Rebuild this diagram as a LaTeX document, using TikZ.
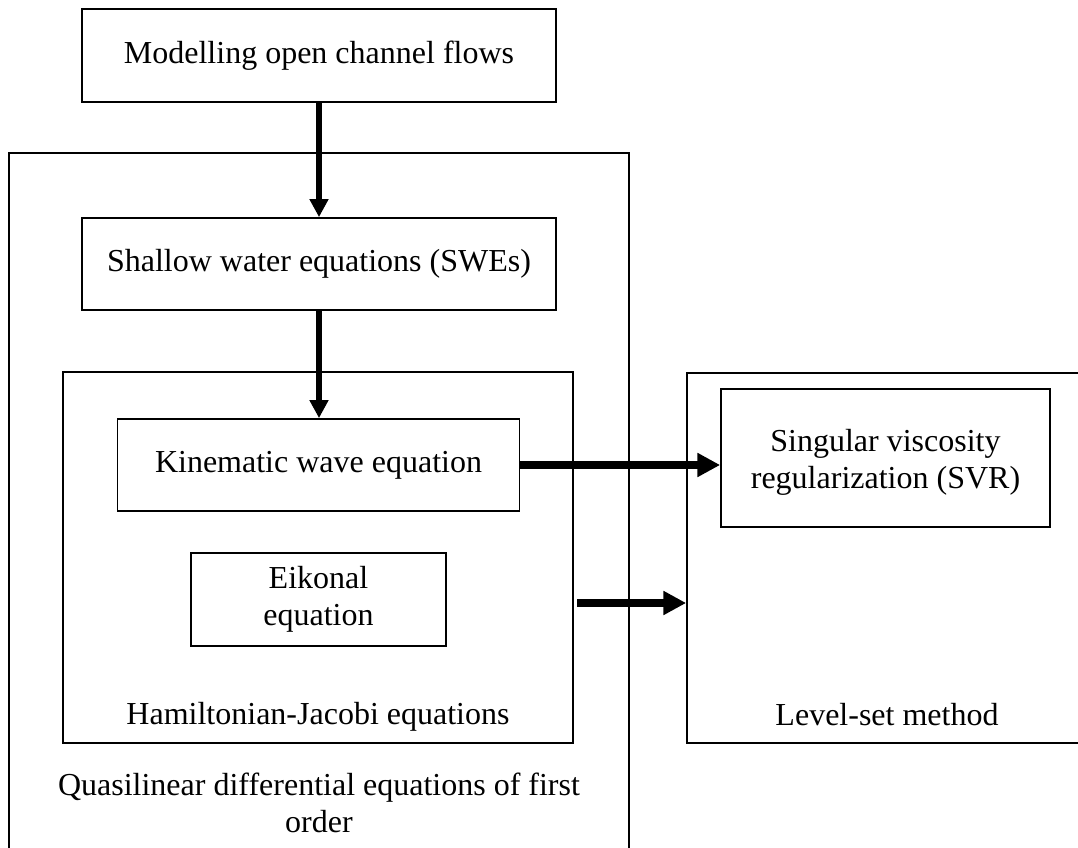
\documentclass[tikz,border=0pt]{standalone}
\usepackage{fontspec}
\setmainfont{Liberation Serif}
\usetikzlibrary{arrows.meta}
\begin{document}
\begin{tikzpicture}[x=0.75pt,y=-0.75pt,
  box/.style={draw, line width=1.3pt, inner sep=0pt, font=\fontsize{24}{27.75}\selectfont, align=center},
  lbl/.style={inner sep=0pt, font=\fontsize{24}{27.75}\selectfont, align=center},
  varrow/.style={line width=4.5pt, -{Triangle[length=13.5pt,width=13.5pt]}},
  harrow/.style={line width=6pt, -{Triangle[length=17pt,width=17pt]}}]
\useasboundingbox (0,0) rectangle (1078,848);
\clip (0,0) rectangle (1078,848);
\fill[white] (0,0) rectangle (1078,848);
% containers
\node[box, minimum width=465pt, minimum height=560.25pt] (outer) at (319,526.5) {};
\node[box, minimum width=382.5pt, minimum height=278.25pt] (hj) at (318,557.5) {};
\node[box, minimum width=302.25pt, minimum height=277.5pt] (ls) at (888.5,558) {};
% boxes
\node[box, minimum width=355.5pt, minimum height=69.75pt] (top) at (319,55.5) {Modelling open channel flows};
\node[box, minimum width=355.5pt, minimum height=69pt] (swe) at (319,264) {Shallow water equations (SWEs)};
\node[box, minimum width=301.5pt, minimum height=69pt] (kin) at (318.5,465) {Kinematic wave equation};
\node[box, minimum width=191.25pt, minimum height=69.75pt] (eik) at (318.5,599.5) {Eikonal\\equation};
\node[box, minimum width=246.75pt, minimum height=103.5pt] (svr) at (885.5,458) {};
\node[lbl, anchor=base] (svrl) at (885.5,488) {Singular viscosity\\regularization (SVR)};
% labels
\node[lbl, anchor=base] (hjl) at (318,724) {Hamiltonian-Jacobi equations};
\node[lbl, anchor=base] (lsl) at (887,725) {Level-set method};
\node[lbl, anchor=base] (outl) at (319,832) {Quasilinear differential equations of first\\order};
% arrows
\coordinate (a4s) at (577,603);
\draw[varrow] (top.south) -- (swe.north);
\draw[varrow] (swe.south) -- (swe.south |- kin.north);
\draw[harrow] (kin.east) -- (kin.east -| svr.west);
\draw[harrow] (a4s) -- (a4s -| ls.west);
\end{tikzpicture}
\end{document}
